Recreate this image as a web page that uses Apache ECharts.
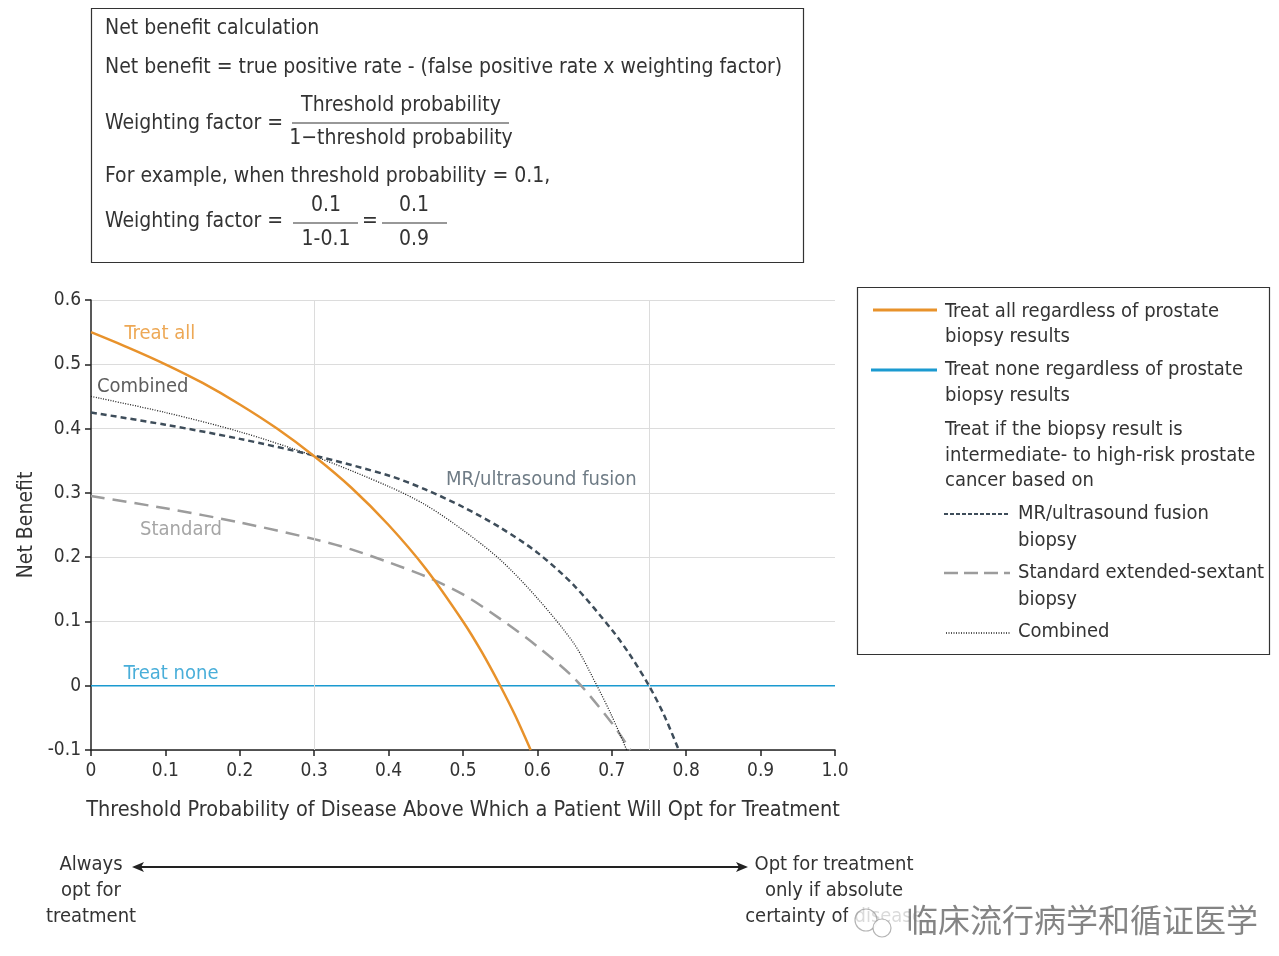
<!DOCTYPE html>
<html>
<head>
<meta charset="utf-8">
<script src="https://cdn.jsdelivr.net/npm/echarts@6/dist/echarts.min.js"></script>
<style>
  html, body { margin: 0; padding: 0; background: #fff; }
  #chart { width: 1279px; height: 956px; }
</style>
</head>
<body>
<div id="chart"></div>
<script>
// Decision-curve values: [threshold probability, net benefit]
const treatAll = [[0,0.55],[0.05,0.526],[0.1,0.50],[0.15,0.471],[0.2,0.4375],[0.25,0.40],[0.3,0.357],[0.35,0.308],[0.4,0.25],[0.45,0.182],[0.5,0.10],[0.525,0.053],[0.55,0.0],[0.57,-0.046],[0.591,-0.1]];
const treatNone = [[0,0],[1,0]];
const mrFusion = [[0,0.425],[0.1,0.406],[0.2,0.384],[0.3,0.358],[0.4,0.327],[0.45,0.305],[0.5,0.278],[0.55,0.246],[0.6,0.207],[0.65,0.155],[0.7,0.087],[0.725,0.047],[0.75,0.0],[0.77,-0.045],[0.79,-0.1]];
const standardBiopsy = [[0,0.295],[0.1,0.276],[0.2,0.254],[0.3,0.228],[0.35,0.212],[0.4,0.192],[0.45,0.17],[0.5,0.142],[0.55,0.104],[0.6,0.061],[0.65,0.011],[0.7,-0.058],[0.725,-0.1]];
const combined = [[0,0.45],[0.1,0.425],[0.2,0.395],[0.3,0.357],[0.4,0.31],[0.45,0.281],[0.5,0.242],[0.55,0.196],[0.6,0.136],[0.65,0.064],[0.68,0.0],[0.7,-0.047],[0.72,-0.1]];

// Axis ticks and reference thresholds
const xTickValues = [0,0.1,0.2,0.3,0.4,0.5,0.6,0.7,0.8,0.9,1.0];
const xTickLabels = ['0','0.1','0.2','0.3','0.4','0.5','0.6','0.7','0.8','0.9','1.0'];
const yTickValues = [-0.1,0,0.1,0.2,0.3,0.4,0.5,0.6];
const yTickLabels = ['-0.1','0','0.1','0.2','0.3','0.4','0.5','0.6'];
const refThresholds = [0.3, 0.75];

// In-plot curve labels: [text, x, y]
const curveLabels = [
  ['Treat all', 0.045, 0.547],
  ['Combined', 0.008, 0.465],
  ['MR/ultrasound fusion', 0.477, 0.321],
  ['Standard', 0.066, 0.242],
  ['Treat none', 0.044, 0.019]
];

const FONT = "'DejaVu Sans Condensed', 'Open Sans', sans-serif";
const C_ORANGE = '#e8922b';
const C_BLUE = '#1b9ad0';
const C_MR = '#3e4d5a';
const C_STD = '#9c9c9c';
const C_COMB = '#1e1e1e';
const C_TEXT = '#333333';

const labelColors = [C_ORANGE, '#333', '#4a5a66', '#8f8f8f', C_BLUE];

const chart = echarts.init(document.getElementById('chart'), null, { renderer: 'canvas' });

function fmtTick(list, vals) {
  return function (v) {
    for (let i = 0; i < vals.length; i++) if (Math.abs(vals[i] - v) < 1e-9) return list[i];
    return '';
  };
}

const graphic = [];
// Formula box
graphic.push({ type: 'rect', shape: { x: 91.5, y: 8.5, width: 712, height: 254 }, style: { fill: 'none', stroke: '#333', lineWidth: 1.2 } });
function txt(x, y, s, opts) {
  graphic.push(Object.assign({ type: 'text', x: x, y: y, style: Object.assign({ text: s, font: '21px ' + FONT, fill: C_TEXT, verticalAlign: 'middle', align: 'left' }, opts || {}) }));
}
function hline(x1, x2, y, color, width, dash) {
  graphic.push({ type: 'line', shape: { x1: x1, y1: y, x2: x2, y2: y }, style: { stroke: color || '#333', lineWidth: width || 1.2, lineDash: dash || null } });
}
txt(105, 29, 'Net benefit calculation');
txt(105, 68, 'Net benefit = true positive rate - (false positive rate x weighting factor)');
txt(105, 124, 'Weighting factor =');
txt(401, 106, 'Threshold probability', { align: 'center' });
hline(292, 509, 123);
txt(401, 139, '1\u2212threshold probability', { align: 'center' });
txt(105, 177, 'For example, when threshold probability = 0.1,');
txt(105, 222, 'Weighting factor =');
txt(326, 206, '0.1', { align: 'center' });
hline(293, 358, 223);
txt(326, 240, '1-0.1', { align: 'center' });
txt(370, 222, '=', { align: 'center' });
txt(414, 206, '0.1', { align: 'center' });
hline(382, 447, 223);
txt(414, 240, '0.9', { align: 'center' });

// Legend box
graphic.push({ type: 'rect', shape: { x: 857.5, y: 287.5, width: 412, height: 367 }, style: { fill: '#fff', stroke: '#333', lineWidth: 1.2 } });
const LF = { font: '20px ' + FONT };
hline(873, 937, 310, C_ORANGE, 3);
txt(945, 312, 'Treat all regardless of prostate', LF);
txt(945, 337, 'biopsy results', LF);
hline(871, 937, 370, C_BLUE, 3);
txt(945, 370, 'Treat none regardless of prostate', LF);
txt(945, 396, 'biopsy results', LF);
txt(945, 430, 'Treat if the biopsy result is', LF);
txt(945, 456, 'intermediate- to high-risk prostate', LF);
txt(945, 481, 'cancer based on', LF);
hline(944, 1010, 514, C_MR, 2, [4, 2]);
txt(1018, 514, 'MR/ultrasound fusion', LF);
txt(1018, 541, 'biopsy', LF);
hline(944, 1010, 573, C_STD, 2.5, [14, 6]);
txt(1018, 573, 'Standard extended-sextant', LF);
txt(1018, 600, 'biopsy', LF);
hline(946, 1010, 633, C_COMB, 1.5, [1, 1.5]);
txt(1018, 632, 'Combined', LF);

// Bottom orientation arrow
const BF = { font: '20px ' + FONT, align: 'center' };
txt(91, 865, 'Always', BF);
txt(91, 891, 'opt for', BF);
txt(91, 917, 'treatment', BF);
hline(136, 744, 867, '#222', 1.8);
graphic.push({ type: 'polygon', shape: { points: [[132, 867], [144, 862], [141, 867], [144, 872]] }, style: { fill: '#222' } });
graphic.push({ type: 'polygon', shape: { points: [[748, 867], [736, 862], [739, 867], [736, 872]] }, style: { fill: '#222' } });
txt(834, 865, 'Opt for treatment', BF);
txt(834, 891, 'only if absolute', BF);
txt(834, 917, 'certainty of disease', BF);
// Account watermark
graphic.push({ type: 'rect', shape: { x: 848, y: 902, width: 420, height: 40 }, style: { fill: 'rgba(255,255,255,0.82)' } });
graphic.push({ type: 'circle', shape: { cx: 866, cy: 920, r: 11 }, style: { fill: 'none', stroke: 'rgba(150,150,150,0.7)', lineWidth: 1.2 } });
graphic.push({ type: 'circle', shape: { cx: 882, cy: 928, r: 9 }, style: { fill: 'rgba(255,255,255,0.9)', stroke: 'rgba(150,150,150,0.7)', lineWidth: 1.2 } });
txt(906, 920, '临床流行病学和循证医学', { font: '32px "Noto Sans CJK SC", sans-serif', fill: 'rgba(110,110,110,0.85)' });

const lineSeries = (name, data, color, width, dash, z) => ({
  name: name, type: 'line', data: data, smooth: 0.3,
  showSymbol: false, symbol: 'none', clip: true, z: z,
  lineStyle: { color: color, width: width, type: dash || 'solid' }
});

chart.setOption({
  animation: false,
  backgroundColor: '#fff',
  textStyle: { fontFamily: FONT },
  grid: { left: 91, right: 444, top: 300, bottom: 206, containLabel: false },
  xAxis: {
    type: 'value', min: 0, max: 1, interval: 0.1,
    name: 'Threshold Probability of Disease Above Which a Patient Will Opt for Treatment',
    nameLocation: 'middle', nameGap: 49,
    nameTextStyle: { fontSize: 21.5, color: C_TEXT, fontFamily: FONT },
    axisLine: { show: true, onZero: false, lineStyle: { color: '#222', width: 1.5 } },
    axisTick: { show: true, length: 6, lineStyle: { color: '#222', width: 1.5 } },
    axisLabel: { fontSize: 19, color: C_TEXT, margin: 12, formatter: fmtTick(xTickLabels, xTickValues) },
    splitLine: { show: false }
  },
  yAxis: {
    type: 'value', min: -0.1, max: 0.6, interval: 0.1,
    name: 'Net Benefit', nameLocation: 'middle', nameGap: 52, nameRotate: 90,
    nameTextStyle: { fontSize: 21, color: C_TEXT, fontFamily: FONT },
    axisLine: { show: true, onZero: false, lineStyle: { color: '#222', width: 1.5 } },
    axisTick: { show: true, length: 6, lineStyle: { color: '#222', width: 1.5 } },
    axisLabel: { fontSize: 19, color: C_TEXT, margin: 10, formatter: fmtTick(yTickLabels, yTickValues) },
    splitLine: { show: true, lineStyle: { color: '#dcdcdc', width: 1 } }
  },
  series: [
    Object.assign(lineSeries('Treat none', treatNone, C_BLUE, 1.5, 'solid', 3), {
      markLine: {
        silent: true, symbol: 'none', label: { show: false },
        lineStyle: { color: '#dcdcdc', width: 1, type: 'solid' },
        data: refThresholds.map(v => ({ xAxis: v }))
      }
    }),
    lineSeries('Standard extended-sextant biopsy', standardBiopsy, C_STD, 2.5, [14, 8], 4),
    lineSeries('Combined', combined, C_COMB, 1.3, [1, 1.5], 5),
    lineSeries('MR/ultrasound fusion biopsy', mrFusion, C_MR, 2.5, [6, 4], 6),
    lineSeries('Treat all', treatAll, C_ORANGE, 2.5, 'solid', 7),
    {
      type: 'scatter', symbolSize: 0, silent: true, z: 8,
      data: curveLabels.map((d, i) => ({
        value: [d[1], d[2]],
        label: { show: true, position: 'right', distance: 0, formatter: d[0], fontSize: 20, fontFamily: FONT, color: labelColors[i] }
      }))
    }
  ],
  graphic: graphic
});
</script>
</body>
</html>
